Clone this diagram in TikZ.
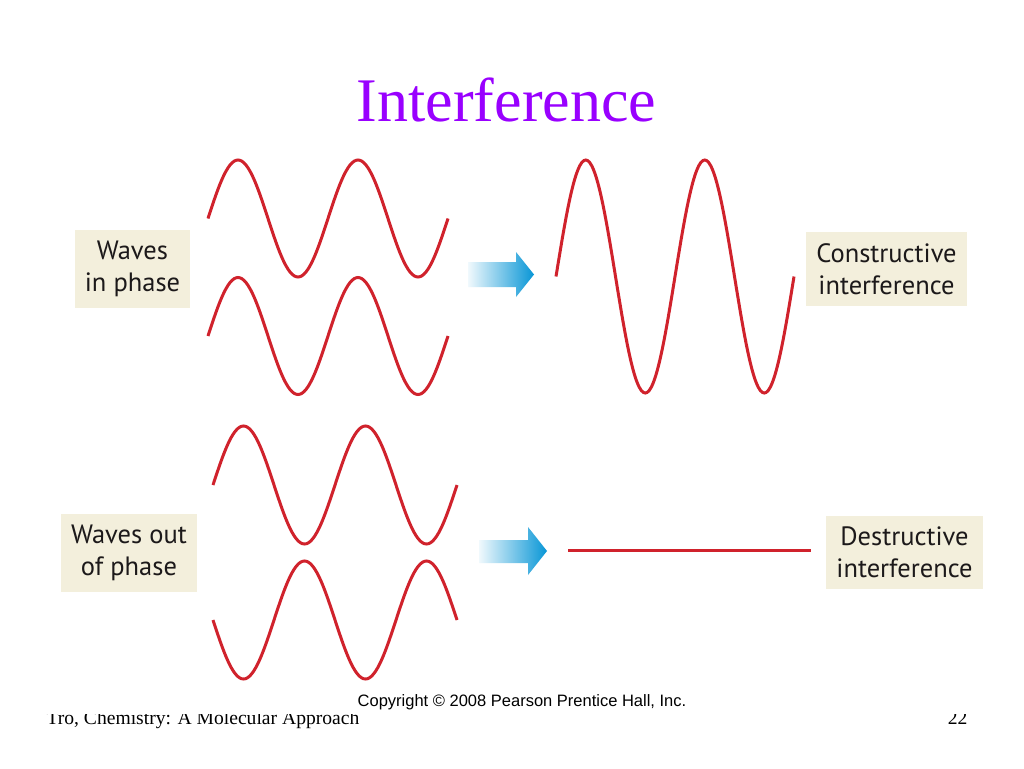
\documentclass[tikz,border=0pt]{standalone}
\usepackage{fontspec}
\setmainfont{Liberation Serif}
\newfontfamily\labelfont{PT Sans}
\newfontfamily\copyfont{Liberation Sans}
\usetikzlibrary{positioning}

\definecolor{titlepurple}{RGB}{153,0,255}
\definecolor{wavered}{RGB}{208,34,44}
\definecolor{boxbeige}{RGB}{243,239,220}
\definecolor{labeltext}{RGB}{28,25,26}
\definecolor{arrowblue}{RGB}{8,150,214}

\begin{document}
\begin{tikzpicture}[x=1pt,y=-1pt]
        \tikzstyle{labelbox} = [rectangle, fill=boxbeige, text=labeltext, align=center, inner xsep=10pt, inner ysep=11pt, font=\labelfont\fontsize{26.5}{32.5}\selectfont]
        \tikzstyle{wave} = [line width=3pt, draw=wavered]
        \tikzstyle{bigarrow} = [left color=arrowblue!6, right color=arrowblue]

        \useasboundingbox (0,0) rectangle (1024,768);

        % footer, partly hidden under the figure
        \node (book) [anchor=base west, font=\fontsize{19.6}{20}\selectfont] at (43,724) {Tro, Chemistry: A Molecular Approach};
        \node (page) [anchor=base east, font=\fontsize{19.6}{20}\selectfont] at (971,724) {22};
        \fill[white] (0,0) rectangle (1024,714);

        \node (title) [anchor=base, text=titlepurple, font=\fontsize{62}{62}\selectfont] at (506.5,121) {Interference};

        % labels
        \node (inphase) [labelbox] at (132.5,269) {Waves\\in phase};
        \node (constr) [labelbox] at (886.5,269) {Constructive\\interference};
        \node (outphase) [labelbox] at (129,553) {Waves out\\of phase};
        \node (destr) [labelbox] at (904.5,552.5) {Destructive\\interference};

        % waves in phase
        \draw [wave] plot[domain=0:240, samples=121, smooth] ({\x+208}, {218.5-58.5*sin(3*\x)});
        \draw [wave] plot[domain=0:240, samples=121, smooth] ({\x+208}, {336-58.5*sin(3*\x)});
        \draw [wave] plot[domain=0:238, samples=121, smooth] ({\x+556}, {276.5-116.5*sin(3.0252*\x)});

        % waves out of phase
        \draw [wave] plot[domain=0:244, samples=121, smooth] ({\x+213}, {485-59*sin(2.9508*\x)});
        \draw [wave] plot[domain=0:244, samples=121, smooth] ({\x+213}, {620+59*sin(2.9508*\x)});
        \draw [wave] (568,550) -- (811,550);

        % block arrows
        \shade [bigarrow] (468,262) -- (516,262) -- (516,252) -- (534,274.5) -- (516,297) -- (516,287) -- (468,287) -- cycle;
        \shade [bigarrow] (479,540) -- (528,540) -- (528,527) -- (547,551) -- (528,575) -- (528,563) -- (479,563) -- cycle;

        \node (copy) [anchor=base, font=\copyfont\fontsize{16.5}{17}\selectfont] at (522,706) {Copyright \textcopyright{} 2008 Pearson Prentice Hall, Inc.};
\end{tikzpicture}
\end{document}
